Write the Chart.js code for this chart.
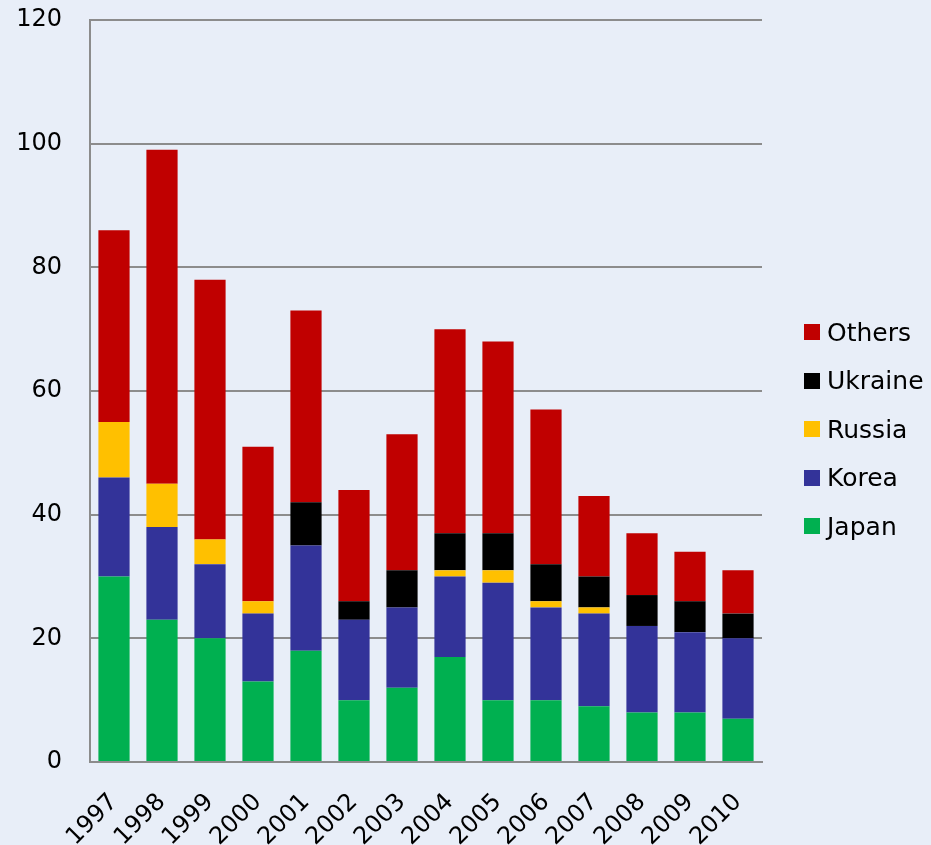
<!DOCTYPE html>
<html>
<head>
<meta charset="utf-8">
<script src="https://cdn.jsdelivr.net/npm/chart.js@4/dist/chart.umd.min.js"></script>
<style>
  html, body { margin: 0; padding: 0; background: #E8EEF8; }
  #wrap { position: relative; width: 931px; height: 845px; }
  #legend { position: absolute; left: 804px; top: 308px; font-family: "DejaVu Sans", Verdana, sans-serif; font-size: 25px; color: #000; }
  #legend div { height: 48.5px; display: flex; align-items: center; }
  #legend span.box { display: inline-block; width: 16px; height: 16px; margin-right: 7px; }
</style>
</head>
<body>
<div id="wrap">
  <canvas id="myChart" width="931" height="845"></canvas>
  <div id="legend"></div>
</div>
<script>
// Data
var years = ['1997', '1998', '1999', '2000', '2001', '2002', '2003', '2004', '2005', '2006', '2007', '2008', '2009', '2010'];
var japan   = [30, 23, 20, 13, 18, 10, 12, 17, 10, 10, 9, 8, 8, 7];
var korea   = [16, 15, 12, 11, 17, 13, 13, 13, 19, 15, 15, 14, 13, 13];
var russia  = [9, 7, 4, 2, 0, 0, 0, 1, 2, 1, 1, 0, 0, 0];
var ukraine = [0, 0, 0, 0, 7, 3, 6, 6, 6, 6, 5, 5, 5, 4];
var others  = [31, 54, 42, 25, 31, 18, 22, 33, 31, 25, 13, 10, 8, 7];
var yTicks = [0, 20, 40, 60, 80, 100, 120];

var series = [
  { label: 'Japan', data: japan, color: '#00B050' },
  { label: 'Korea', data: korea, color: '#333399' },
  { label: 'Russia', data: russia, color: '#FFC000' },
  { label: 'Ukraine', data: ukraine, color: '#000000' },
  { label: 'Others', data: others, color: '#C00000' }
];

var font = { family: '"DejaVu Sans", Verdana, sans-serif', size: 24 };

var ctx = document.getElementById('myChart').getContext('2d');

var myChart = new Chart(ctx, {
  type: 'bar',
  data: {
    labels: years,
    datasets: series.map(function (s) {
      return {
        label: s.label,
        data: s.data,
        backgroundColor: s.color,
        borderWidth: 0,
        barPercentage: 0.65,
        categoryPercentage: 1
      };
    })
  },
  options: {
    responsive: false,
    animation: false,
    layout: { padding: { top: 20, right: 169, left: 0, bottom: 0 } },
    plugins: {
      legend: { display: false },
      tooltip: { enabled: false }
    },
    scales: {
      x: {
        stacked: true,
        grid: { display: false },
        border: { color: '#8C8C8C', width: 2 },
        ticks: { color: '#000', font: font, minRotation: 45, maxRotation: 45, padding: 18 },
        afterFit: function (scale) { scale.height = 83; scale.paddingLeft = 0; scale.paddingRight = 0; }
      },
      y: {
        stacked: true,
        min: 0,
        max: 120,
        afterBuildTicks: function (scale) {
          scale.ticks = yTicks.map(function (v) { return { value: v }; });
        },
        grid: { color: '#8C8C8C', lineWidth: 2, drawTicks: false },
        border: { color: '#8C8C8C', width: 2 },
        ticks: { color: '#000', font: font, padding: 28 },
        afterFit: function (scale) { scale.width = 90; scale.paddingTop = 0; scale.paddingBottom = 0; }
      }
    }
  }
});

// Legend, reversed like the original
var legend = document.getElementById('legend');
series.slice().reverse().forEach(function (s) {
  var row = document.createElement('div');
  var box = document.createElement('span');
  box.className = 'box';
  box.style.background = s.color;
  row.appendChild(box);
  row.appendChild(document.createTextNode(s.label));
  legend.appendChild(row);
});
</script>
</body>
</html>
